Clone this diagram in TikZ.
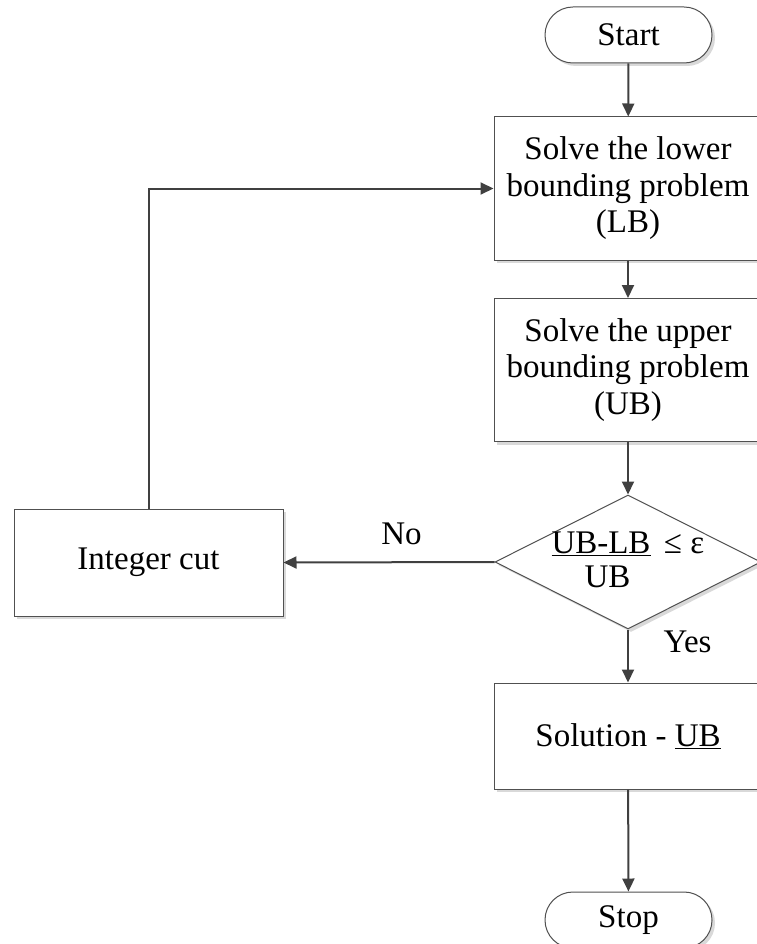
\documentclass[tikz,border=0pt]{standalone}
\usepackage{fontspec}
\setmainfont{Liberation Serif}
\usetikzlibrary{arrows.meta,shapes.geometric,shadows}
\definecolor{edgegray}{HTML}{505050}
\definecolor{linkgray}{HTML}{404040}
\definecolor{shadegray}{HTML}{D9D9D9}
\begin{document}
\begin{tikzpicture}[x=1pt,y=-1pt,
  every node/.style={font=\fontsize{33}{36.5}\selectfont, inner sep=0pt},
  shaded/.style={draw=edgegray, line width=1pt, fill=white,
    drop shadow={shadow xshift=3pt, shadow yshift=-3pt, fill=shadegray, opacity=1}},
  stepbox/.style={shaded, rectangle, minimum width=268pt, minimum height=143pt, align=center},
  terminal/.style={shaded, rectangle, rounded corners=27.9pt, minimum width=167pt, minimum height=56pt},
  test/.style={shaded, diamond, minimum width=266pt, minimum height=134pt},
  link/.style={draw=linkgray, line width=2pt, -{Triangle[length=13pt,width=12pt]}, color=linkgray},
  tag/.style={anchor=base}
]
\useasboundingbox (0,0) rectangle (756,944);

% process boxes and terminals
\node[terminal] (start) at (628.5,35) {Start};
\node[stepbox] (lb) at (628,188.5) {Solve the lower\\bounding problem\\(LB)};
\node[stepbox] (ub) at (628,370) {Solve the upper\\bounding problem\\(UB)};
\node[test] (gap) at (628,562) {};
\node[stepbox, minimum height=106pt] (sol) at (628,736) {Solution - \underline{UB}};
\node[terminal] (stop) at (628.5,920) {Stop};
\node[shaded, rectangle, minimum width=269pt, minimum height=107pt] (cut) at (148.5,562.5) {Integer cut};

% convergence test inside the diamond
\node[tag] (gnum) at (601,553) {\underline{UB-LB}};
\node[tag] (gden) at (607.5,587) {UB};
\node[tag] (geps) at (684,553) {≤ ε};

% connectors
\draw[link] (start) -- (lb);
\draw[link] (lb) -- (ub);
\draw[link] (ub) -- (gap);
\draw[link] (gap) -- (sol);
\draw[link] (sol) -- (stop);
\draw[link] (gap.west) -- (cut.east);
\draw[link] (cut.north) |- (lb.west);

% branch labels
\node[tag] (yes) at (687.5,652) {Yes};
\node[tag] (no) at (401.5,544) {No};
\end{tikzpicture}
\end{document}
